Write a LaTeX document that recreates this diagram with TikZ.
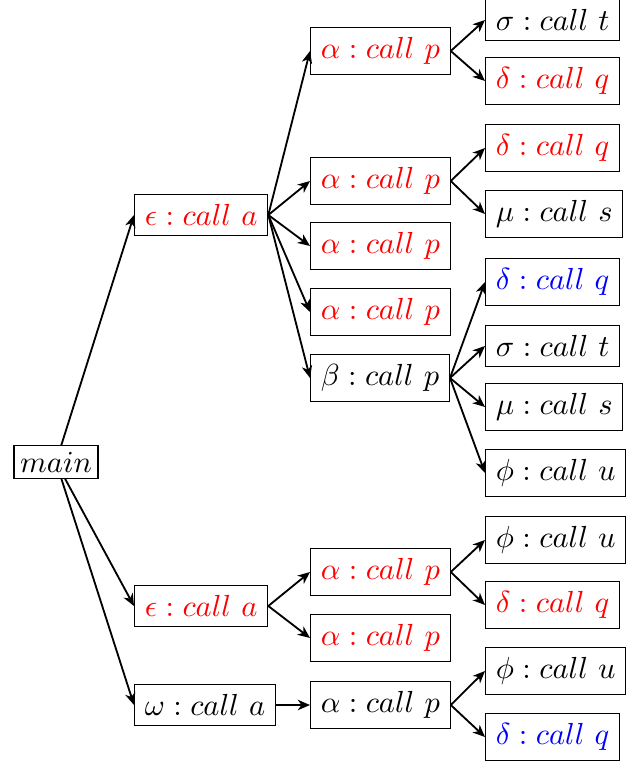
\documentclass[tikz,border=0pt]{standalone}
\usepackage{amsmath}
\usepackage{tikz}
\usepackage{xcolor}
\usetikzlibrary{arrows.meta}

\tikzset{
  call/.style={draw, anchor=west},
  hot/.style={call, text=red},
  cold/.style={call, text=blue},
  edge/.style={-{Stealth[length=4pt,width=3.4pt,inset=1.2pt]}, semithick}
}

\begin{document}
\begin{tikzpicture}[x=0.328pt,y=-0.328pt]
        \useasboundingbox (0,0) rectangle (644,765);

        \node[draw, inner sep=2pt] (main) at (56,462) {$main$};

        \node[hot] (e1) at (134,215) {$\epsilon : call\ a$};
        \node[hot] (e2) at (134,606) {$\epsilon : call\ a$};
        \node[call] (w) at (134,705) {$\omega : call\ a$};

        \node[hot] (p1) at (310,51) {$\alpha : call\ p$};
        \node[hot] (p2) at (310,181) {$\alpha : call\ p$};
        \node[hot] (p3) at (310,246) {$\alpha : call\ p$};
        \node[hot] (p4) at (310,312) {$\alpha : call\ p$};
        \node[call] (b) at (310,378) {$\beta : call\ p$};
        \node[hot] (p5) at (310,572) {$\alpha : call\ p$};
        \node[hot] (p6) at (310,638) {$\alpha : call\ p$};
        \node[call] (p7) at (310,705) {$\alpha : call\ p$};

        \node[call] (t1) at (485,20) {$\sigma : call\ t$};
        \node[hot] (q1) at (485,81) {$\delta : call\ q$};
        \node[hot] (q2) at (485,148) {$\delta : call\ q$};
        \node[call] (s1) at (485,214) {$\mu : call\ s$};
        \node[cold] (q3) at (485,282) {$\delta : call\ q$};
        \node[call] (t2) at (485,346) {$\sigma : call\ t$};
        \node[call] (s2) at (485,407) {$\mu : call\ s$};
        \node[call] (u1) at (485,473) {$\phi : call\ u$};
        \node[call] (u2) at (485,540) {$\phi : call\ u$};
        \node[hot] (q4) at (485,605) {$\delta : call\ q$};
        \node[call] (u3) at (485,671) {$\phi : call\ u$};
        \node[cold] (q5) at (485,737) {$\delta : call\ q$};

        \draw[edge] (main) -- (e1.west);
        \draw[edge] (main) -- (e2.west);
        \draw[edge] (main) -- (w.west);

        \foreach \c in {p1,p2,p3,p4,b}
            \draw[edge] (e1.east) -- (\c.west);
        \foreach \c in {p5,p6}
            \draw[edge] (e2.east) -- (\c.west);
        \draw[edge] (w.east) -- (p7.west);

        \draw[edge] (p1.east) -- (t1.west);
        \draw[edge] (p1.east) -- (q1.west);
        \draw[edge] (p2.east) -- (q2.west);
        \draw[edge] (p2.east) -- (s1.west);
        \foreach \c in {q3,t2,s2,u1}
            \draw[edge] (b.east) -- (\c.west);
        \draw[edge] (p5.east) -- (u2.west);
        \draw[edge] (p5.east) -- (q4.west);
        \draw[edge] (p7.east) -- (u3.west);
        \draw[edge] (p7.east) -- (q5.west);
    \end{tikzpicture}
\end{document}
